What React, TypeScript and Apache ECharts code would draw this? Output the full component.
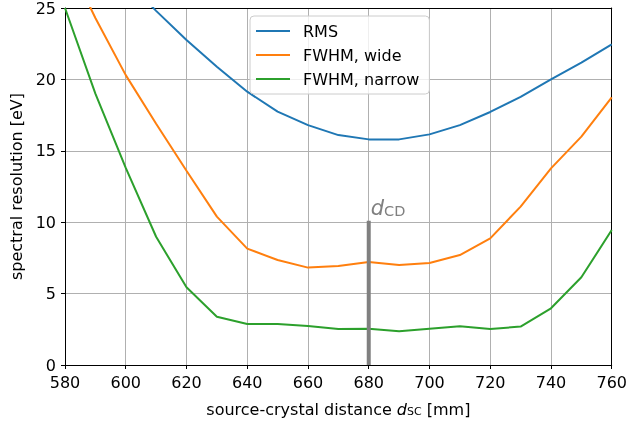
import React, { useEffect, useRef } from "react";
import * as echarts from "echarts";

const xValues = [580, 590, 600, 610, 620, 630, 640, 650, 660, 670, 680, 690, 700, 710, 720, 730, 740, 750, 760];
const rmsValues = [36.0, 31.0, 27.0, 24.8, 22.76, 20.89, 19.14, 17.74, 16.8, 16.1, 15.8, 15.8, 16.15, 16.8, 17.72, 18.77, 20.0, 21.17, 22.45];
const wideValues = [28.7, 24.3, 20.3, 16.9, 13.6, 10.39, 8.15, 7.35, 6.82, 6.93, 7.21, 7.0, 7.14, 7.7, 8.87, 11.09, 13.77, 15.99, 18.74];
const narrowValues = [25.0, 19.0, 13.8, 8.98, 5.44, 3.38, 2.87, 2.87, 2.73, 2.52, 2.54, 2.36, 2.54, 2.71, 2.52, 2.69, 3.97, 6.14, 9.45];
const seriesNames = ["RMS", "FWHM, wide", "FWHM, narrow"];
const seriesColors = ["#1f77b4", "#ff7f0e", "#2ca02c"];
const markerX = 680;
const markerRange = [0, 10.1];
const xTicks = { min: 580, max: 760, interval: 20 };
const yTicks = { min: 0, max: 25, interval: 5 };

const FONT = "DejaVu Sans";

export default function App() {
  const ref = useRef<HTMLDivElement>(null);
  useEffect(() => {
    const chart = echarts.init(ref.current as HTMLDivElement, null, { renderer: "svg" });
    const pair = (ys: number[]) => xValues.map((x, i) => [x, ys[i]]);
    const allSeries = [rmsValues, wideValues, narrowValues];
    const black = "#000000";
    chart.setOption({
      animation: false,
      textStyle: { fontFamily: FONT },
      grid: { left: 65, right: 15, top: 8, bottom: 58, containLabel: false },
      legend: {
        data: seriesNames,
        orient: "vertical",
        left: 250,
        top: 16,
        icon: "rect",
        itemWidth: 34,
        itemHeight: 2,
        itemGap: 8,
        padding: [7, 10, 7, 6],
        backgroundColor: "rgba(255,255,255,0.8)",
        borderColor: "#cccccc",
        borderWidth: 1,
        borderRadius: 4,
        textStyle: { fontFamily: FONT, fontSize: 16, color: black, lineHeight: 16, padding: [0, 0, 0, 8] },
      },
      xAxis: [
        {
          type: "value",
          min: xTicks.min,
          max: xTicks.max,
          interval: xTicks.interval,
          position: "bottom",
          name: "source-crystal distance {i|d}{s|SC} [mm]",
          nameLocation: "middle",
          nameGap: 36,
          nameTextStyle: {
            fontFamily: FONT,
            fontSize: 16,
            lineHeight: 16,
            color: black,
            rich: {
              i: { fontFamily: FONT, fontStyle: "italic", fontSize: 16, lineHeight: 16, color: black },
              s: { fontFamily: FONT, fontSize: 11, lineHeight: 7, verticalAlign: "bottom", color: black },
            },
          },
          axisLine: { show: true, onZero: false, lineStyle: { color: black, width: 1 } },
          axisTick: { show: true, inside: false, length: 4, lineStyle: { color: black, width: 1 } },
          axisLabel: { color: black, fontSize: 16, fontFamily: FONT, margin: 9 },
          splitLine: { show: true, lineStyle: { color: "#b0b0b0", width: 1 } },
        },
        {
          type: "value",
          min: xTicks.min,
          max: xTicks.max,
          position: "top",
          axisLine: { show: true, onZero: false, lineStyle: { color: black, width: 1 } },
          axisTick: { show: false },
          axisLabel: { show: false },
          splitLine: { show: false },
        },
      ],
      yAxis: [
        {
          type: "value",
          min: yTicks.min,
          max: yTicks.max,
          interval: yTicks.interval,
          position: "left",
          name: "spectral resolution [eV]",
          nameLocation: "middle",
          nameGap: 40,
          nameTextStyle: { fontFamily: FONT, fontSize: 16, color: black },
          axisLine: { show: true, onZero: false, lineStyle: { color: black, width: 1 } },
          axisTick: { show: true, inside: false, length: 4, lineStyle: { color: black, width: 1 } },
          axisLabel: { color: black, fontSize: 16, fontFamily: FONT, margin: 9 },
          splitLine: { show: true, lineStyle: { color: "#b0b0b0", width: 1 } },
        },
        {
          type: "value",
          min: yTicks.min,
          max: yTicks.max,
          position: "right",
          axisLine: { show: true, onZero: false, lineStyle: { color: black, width: 1 } },
          axisTick: { show: false },
          axisLabel: { show: false },
          splitLine: { show: false },
        },
      ],
      series: [
        ...seriesNames.map((name, k) => ({
          name,
          type: "line",
          xAxisIndex: 0,
          yAxisIndex: 0,
          data: pair(allSeries[k]),
          symbol: "none",
          clip: true,
          color: seriesColors[k],
          lineStyle: { color: seriesColors[k], width: 2 },
          z: 3,
        })),
        {
          name: "dCD",
          type: "line",
          xAxisIndex: 0,
          yAxisIndex: 0,
          data: markerRange.map((v) => [markerX, v]),
          symbol: "none",
          color: "#808080",
          lineStyle: { color: "#808080", width: 4, cap: "butt" },
          z: 4,
          endLabel: {
            show: true,
            distance: 0,
            offset: [2, -2],
            verticalAlign: "bottom",
            formatter: "{d|d}{s|CD}",
            rich: {
              d: { fontFamily: FONT, fontStyle: "italic", fontSize: 21, lineHeight: 21, color: "#808080" },
              s: { fontFamily: FONT, fontSize: 14.5, lineHeight: 9, verticalAlign: "bottom", color: "#808080" },
            },
          },
        },
      ],
    });
    return () => chart.dispose();
  }, []);
  return <div ref={ref} style={{ position: "fixed", left: 0, top: 0, width: 630, height: 423 }} />;
}
